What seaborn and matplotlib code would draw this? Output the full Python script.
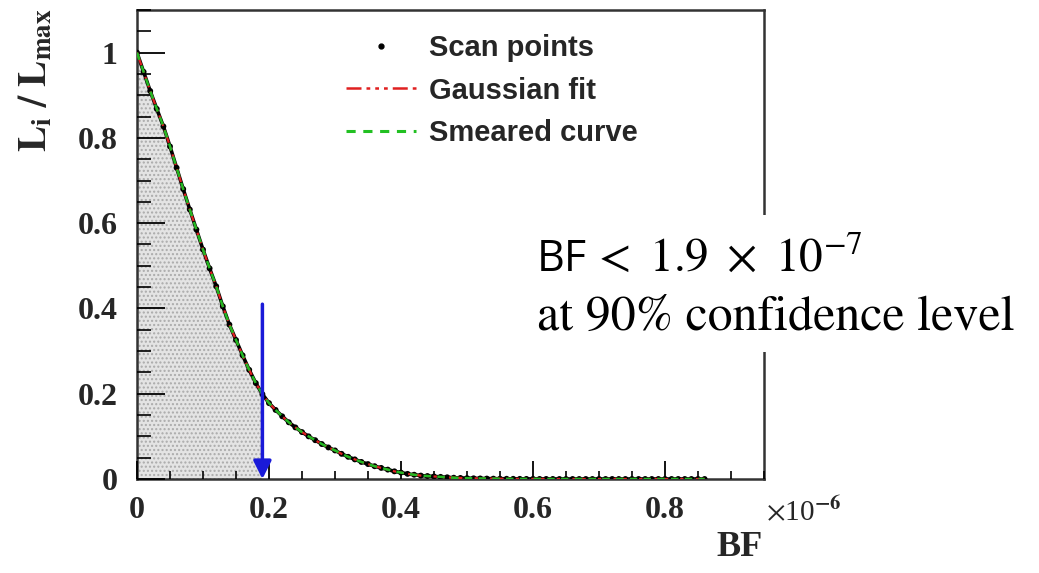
import numpy as np
import matplotlib
matplotlib.use("Agg")
import matplotlib.pyplot as plt
from matplotlib.patches import Rectangle
from matplotlib.lines import Line2D
from matplotlib.ticker import MultipleLocator, FixedLocator
import seaborn as sns
import pandas as pd

# ---- data (BF in units of 1e-6) ----
scan_bf = [round(0.01 * i, 2) for i in range(87)]  # scan grid 0.00 .. 0.86
scan_l = [1.000, 0.955, 0.910, 0.868, 0.827, 0.780, 0.730, 0.680, 0.632, 0.585,
          0.538, 0.494, 0.452, 0.405, 0.362, 0.326, 0.290, 0.256, 0.225, 0.199,
          0.178, 0.162, 0.147, 0.133, 0.121, 0.110, 0.100, 0.091, 0.082, 0.074,
          0.067, 0.059, 0.052, 0.046, 0.040, 0.035, 0.030, 0.026, 0.022, 0.018,
          0.015, 0.012, 0.010, 0.008, 0.007, 0.006, 0.005, 0.004, 0.003, 0.0025,
          0.002, 0.0016, 0.0013, 0.0010, 0.0008, 0.0006, 0.0005, 0.0004, 0.0003, 0.0002,
          0.0002, 0.0001, 0.0001, 0.0001, 0.0, 0.0, 0.0, 0.0, 0.0, 0.0,
          0.0, 0.0, 0.0, 0.0, 0.0, 0.0, 0.0, 0.0, 0.0, 0.0,
          0.0, 0.0, 0.0, 0.0, 0.0, 0.0, 0.0]
gauss_l = list(scan_l)
smeared_l = list(scan_l)
upper_limit = 0.19
arrow_top = 0.41

x_ticks = [0, 0.2, 0.4, 0.6, 0.8]
x_ticklabels = ["0", "0.2", "0.4", "0.6", "0.8"]
y_ticks = [0, 0.2, 0.4, 0.6, 0.8, 1.0]
y_ticklabels = ["0", "0.2", "0.4", "0.6", "0.8", "1"]

df = pd.DataFrame({"bf": scan_bf, "scan": scan_l, "gauss": gauss_l, "smeared": smeared_l})

sns.set_theme(style="ticks")
plt.rcParams["mathtext.fontset"] = "stix"

W, H = 1039, 573
fig = plt.figure(figsize=(W / 100, H / 100), dpi=100)
fig.patch.set_facecolor("white")
ax = fig.add_axes([137 / W, 1 - 479 / H, (764 - 137) / W, (479 - 10) / H])
ax.set_facecolor("white")
ax.set_axisbelow(False)

# shaded region below the curve up to the limit
sub = df[df["bf"] <= upper_limit + 1e-9]
ax.fill_between(sub["bf"], 0, sub["scan"], facecolor="#e4e4e4", edgecolor="#ababab",
                hatch="....", linewidth=0, zorder=1)

# curves
sns.lineplot(data=df, x="bf", y="scan", ax=ax, color="black", linewidth=2.6,
             zorder=2, legend=False)
sns.scatterplot(data=df, x="bf", y="scan", ax=ax, color="black", s=18,
                edgecolor="none", zorder=3, legend=False)
sns.lineplot(data=df, x="bf", y="gauss", ax=ax, color="#e02020", linewidth=1.6,
             zorder=4, legend=False)
ax.lines[-1].set_dashes([6, 2, 1.5, 2, 1.5, 2, 1.5, 2])
sns.lineplot(data=df, x="bf", y="smeared", ax=ax, color="#22b822", linewidth=1.8,
             zorder=5, legend=False)
ax.lines[-1].set_dashes([3, 2.5])

# arrow for the upper limit
ax.annotate("", xy=(upper_limit, 0.0), xytext=(upper_limit, arrow_top),
            arrowprops=dict(arrowstyle="-|>,head_length=0.9,head_width=0.45",
                            color="#1a1ad8", lw=2.5, shrinkA=0, shrinkB=0),
            zorder=6)

ax.set_xlim(0, 0.95)
ax.set_ylim(0, 1.1)
ax.xaxis.set_major_locator(FixedLocator(x_ticks))
ax.yaxis.set_major_locator(FixedLocator(y_ticks))
ax.xaxis.set_minor_locator(MultipleLocator(0.05))
ax.yaxis.set_minor_locator(MultipleLocator(0.05))
tick_font = dict(family="Liberation Serif", weight="bold", size=23)
ax.set_xticklabels(x_ticklabels, fontdict=tick_font)
ax.set_yticklabels(y_ticklabels, fontdict=tick_font)
ax.tick_params(axis="both", which="both", direction="in", color="black",
               top=False, right=False, zorder=7)
ax.tick_params(axis="y", which="major", length=20, width=1.3, pad=14)
ax.tick_params(axis="y", which="minor", length=10, width=1.2)
ax.tick_params(axis="x", which="major", length=13, width=1.3, pad=12)
ax.tick_params(axis="x", which="minor", length=6, width=1.2)
for s in ax.spines.values():
    s.set_color("#333333")
    s.set_linewidth(1.8)
ax.set_xlabel("")
ax.set_ylabel("")

# axis titles
fig.text(35 / W, 1 - 8 / H, r"$\mathbf{L_i\ /\ L_{max}}$", rotation=90,
         ha="center", va="top", fontsize=28)
fig.text(740 / W, 1 - 548 / H, "BF", family="Liberation Serif", weight="bold",
         fontsize=26, ha="center", va="center")
fig.text(766 / W, 1 - 512 / H, r"$\times$10$^{\mathbf{-6}}$", family="Liberation Serif",
         fontsize=21, ha="left", va="center")

# legend
handles = [Line2D([], [], linestyle="none", marker="o", markersize=3.5, color="black"),
           Line2D([], [], color="#e02020", linewidth=1.8,
                  dashes=[6, 2, 1.5, 2, 1.5, 2, 1.5, 2]),
           Line2D([], [], color="#22c022", linewidth=2.2, dashes=[3, 2.5])]
labels = ["Scan points", "Gaussian fit", "Smeared curve"]
leg = ax.legend(handles, labels, loc="upper left",
                bbox_to_anchor=(346 / W, 1 - 34 / H), bbox_transform=fig.transFigure,
                frameon=False, handlelength=2.4, handletextpad=0.45,
                labelspacing=0.5, borderpad=0, borderaxespad=0,
                prop=dict(family="Liberation Sans", weight="bold", size=21))

# white box with result text
fig.add_artist(Rectangle((530 / W, 1 - 352 / H), (W - 530) / W, (352 - 215) / H,
                         transform=fig.transFigure, facecolor="white",
                         edgecolor="none", zorder=10))
fig.text(537 / W, 1 - 271 / H, "BF", family="Open Sans",
         fontsize=31, ha="left", va="baseline", zorder=11, color="black")
fig.text(592 / W, 1 - 271 / H, r"$<\ 1.9\ \times\ 10^{-7}$",
         fontsize=34, ha="left", va="baseline", zorder=11, color="black")
fig.text(537 / W, 1 - 330 / H, "at 90% confidence level", family="STIXGeneral",
         fontsize=36, ha="left", va="baseline", zorder=11, color="black")

fig.savefig("out.png", dpi=100, facecolor="white")
